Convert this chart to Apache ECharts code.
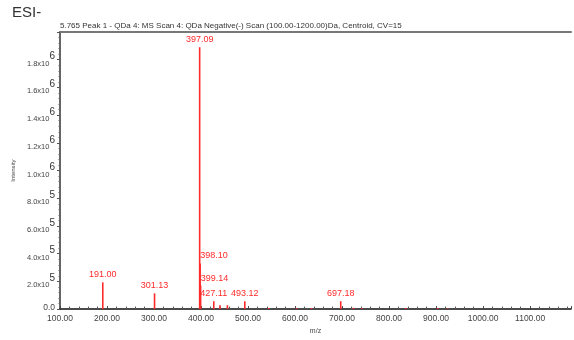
<!DOCTYPE html>
<html>
<head>
<meta charset="utf-8">
<script src="https://cdn.jsdelivr.net/npm/echarts@6/dist/echarts.min.js"></script>
<style>
  html, body { margin: 0; padding: 0; background: #fff; }
  #chart { width: 574px; height: 340px; }
</style>
</head>
<body>
<div id="chart"></div>
<script>
// Negative-mode ESI mass spectrum (centroid)
const titleText = 'ESI-';
const scanText = '5.765 Peak 1 - QDa 4: MS Scan 4: QDa Negative(-) Scan (100.00-1200.00)Da, Centroid, CV=15';

// Labelled peaks
const peakMz = [191.00, 301.13, 397.09, 398.10, 399.14, 427.11, 493.12, 697.18];
const peakIntensity = [193000, 114000, 1890000, 330000, 170000, 57000, 57000, 57000];

// Small unlabelled peaks near the baseline
const minorMz = [440.2, 456.1, 544.3, 603.0, 635.2, 724.4, 742.1, 835.3, 903.2, 925.0];
const minorIntensity = [28000, 28000, 8000, 7000, 8000, 9000, 7000, 7000, 7000, 7000];

// Axis settings
const xTicks = [100, 200, 300, 400, 500, 600, 700, 800, 900, 1000, 1100];
const yTicks = [0, 200000, 400000, 600000, 800000, 1000000, 1200000, 1400000, 1600000, 1800000];

const FONT = 'Arial, "Liberation Sans", sans-serif';
const RED = '#ff2a2a';

// Labels for the two isotope peaks hidden behind the base peak start at the line
const sideLabel = new Set(['398.10', '399.14']);

const peakData = peakMz.map((m, i) => {
  const txt = m.toFixed(2);
  const d = { value: [m, peakIntensity[i]], name: txt };
  if (sideLabel.has(txt)) {
    d.label = { align: 'left' };
  }
  return d;
});
const minorData = minorMz.map((m, i) => [m, minorIntensity[i]]);

function yLabel(v) {
  if (v === 0) return '{z|0.0}';
  if (!yTicks.includes(v)) return '';
  const exp = v >= 1e6 ? 6 : 5;
  const mant = (v / Math.pow(10, exp)).toFixed(1);
  return '{m|' + mant + 'x10}{e|' + exp + '}';
}

const chart = echarts.init(document.getElementById('chart'), null, { renderer: 'canvas' });
chart.setOption({
  animation: false,
  backgroundColor: '#fff',
  title: [
    { text: titleText, left: 12, top: 5, padding: 0,
      textStyle: { fontFamily: FONT, fontSize: 15, fontWeight: 'normal', color: '#333' } },
    { text: scanText, left: 60, top: 22, padding: 0,
      textStyle: { fontFamily: FONT, fontSize: 8, fontWeight: 'normal', color: '#333' } }
  ],
  grid: { left: 60, right: 0, top: 32, bottom: 28, containLabel: false },
  xAxis: [
    {
      type: 'value', min: 100, max: 1187, interval: 100,
      name: 'm/z', nameLocation: 'middle', nameGap: 17,
      nameTextStyle: { fontFamily: FONT, fontSize: 7, color: '#444' },
      axisLine: { show: true, lineStyle: { color: '#111', width: 1.5 } },
      axisTick: { show: true, inside: true, length: 3, lineStyle: { color: '#444' } },
      minorTick: { show: true, splitNumber: 5, length: 2.5, lineStyle: { color: '#555' } },
      splitLine: { show: false },
      axisLabel: {
        fontFamily: FONT, fontSize: 8.5, color: '#444', margin: 5,
        formatter: v => (xTicks.includes(v) ? v.toFixed(2) : '')
      }
    },
    {
      type: 'value', position: 'top', min: 100, max: 1187,
      axisLine: { show: true, lineStyle: { color: '#777', width: 2 } },
      axisTick: { show: false }, axisLabel: { show: false }, splitLine: { show: false }
    }
  ],
  yAxis: {
    type: 'value', min: 0, max: 2000000, interval: 200000,
    name: 'Intensity', nameLocation: 'middle', nameGap: 44,
    nameTextStyle: { fontFamily: FONT, fontSize: 6, color: '#444' },
    axisLine: { show: true, lineStyle: { color: '#666', width: 2 } },
    axisTick: { show: true, length: 3, lineStyle: { color: '#555' } },
    minorTick: { show: true, splitNumber: 5, length: 1.5, lineStyle: { color: '#666' } },
    splitLine: { show: false },
    axisLabel: {
      margin: 5, formatter: yLabel,
      rich: {
        m: { fontFamily: FONT, fontSize: 7.5, color: '#444', verticalAlign: 'bottom', lineHeight: 10 },
        e: { fontFamily: FONT, fontSize: 10, color: '#333', verticalAlign: 'top', lineHeight: 16 },
        z: { fontFamily: FONT, fontSize: 8.5, color: '#444', verticalAlign: 'middle', lineHeight: 10, padding: [0, 0, 3, 0] }
      }
    }
  },
  series: [
    {
      type: 'bar', barWidth: 1.6, data: minorData, xAxisIndex: 0,
      itemStyle: { color: RED }, silent: true
    },
    {
      type: 'bar', barWidth: 1.6, barGap: '-100%', data: peakData, xAxisIndex: 0,
      itemStyle: { color: RED },
      label: {
        show: true, position: 'top', distance: 3,
        formatter: p => p.name,
        fontFamily: FONT, fontSize: 9, color: RED
      }
    }
  ]
});
</script>
</body>
</html>
